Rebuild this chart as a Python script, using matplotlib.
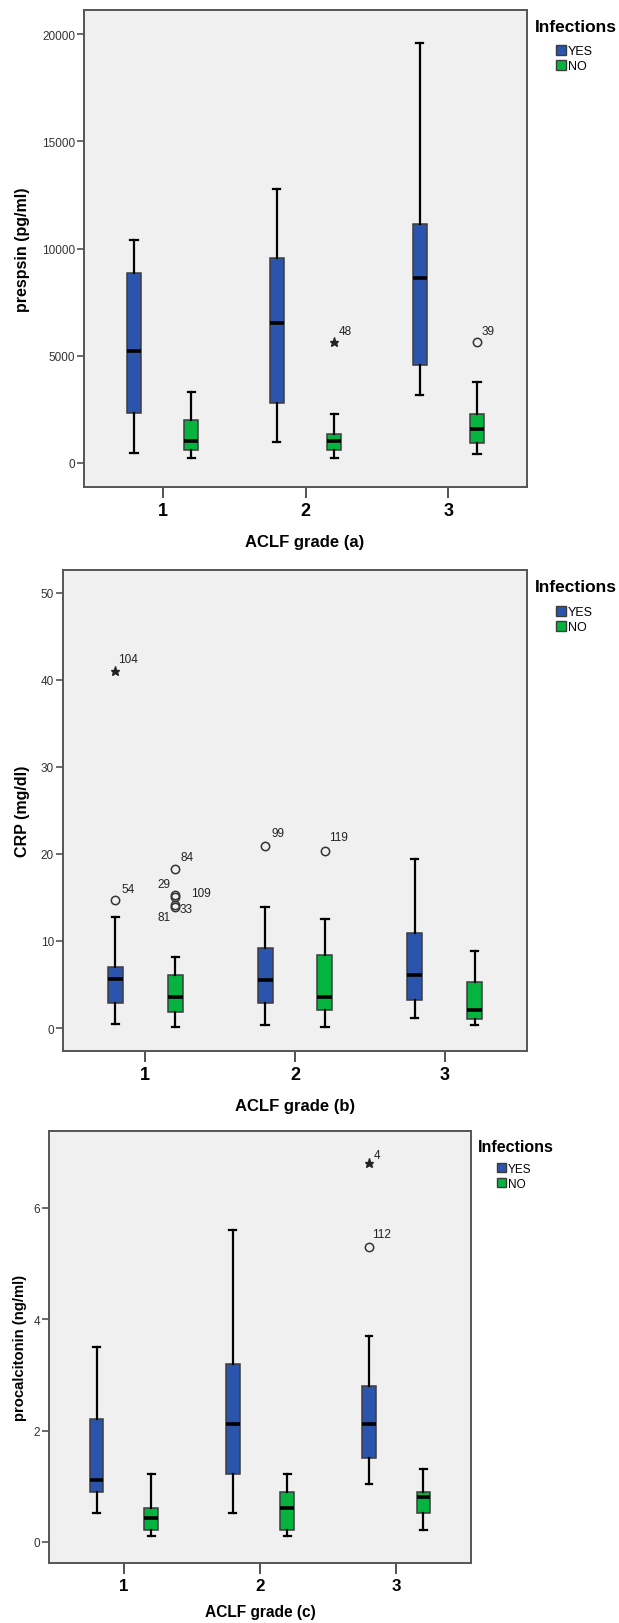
import matplotlib
matplotlib.use('Agg')
import matplotlib.pyplot as plt
from matplotlib.patches import Patch

plt.rcParams['font.family'] = ['Liberation Sans', 'DejaVu Sans']

# Figure size in pixels (dpi 100)
W, H = 619, 1624

grades = [1, 2, 3]
groups = ['YES', 'NO']
group_colors = {'YES': '#2B55AC', 'NO': '#05B43E'}

# Panel (a): prespsin (pg/ml) -- five-number summaries
presepsin_yes_lo = [466, 1000, 3160]
presepsin_yes_q1 = [2330, 2780, 4580]
presepsin_yes_med = [5240, 6540, 8620]
presepsin_yes_q3 = [8850, 9570, 11120]
presepsin_yes_hi = [10380, 12760, 19600]
presepsin_no_lo = [216, 216, 416]
presepsin_no_q1 = [616, 582, 915]
presepsin_no_med = [1032, 1032, 1580]
presepsin_no_q3 = [2000, 1330, 2300]
presepsin_no_hi = [3330, 2300, 3790]
# outliers: (grade, group, value, case label, kind)
presepsin_out = [(2, 'NO', 5620, '48', 'star'),
                 (3, 'NO', 5620, '39', 'circle')]

# Panel (b): CRP (mg/dl)
crp_yes_lo = [0.46, 0.38, 1.15]
crp_yes_q1 = [2.88, 2.88, 3.19]
crp_yes_med = [5.65, 5.49, 6.14]
crp_yes_q3 = [7.03, 9.22, 10.94]
crp_yes_hi = [12.79, 13.9, 19.39]
crp_no_lo = [0.08, 0.08, 0.31]
crp_no_q1 = [1.84, 2.04, 1.04]
crp_no_med = [3.53, 3.53, 2.04]
crp_no_q3 = [6.14, 8.37, 5.30]
crp_no_hi = [8.14, 12.48, 8.79]
crp_out = [(1, 'YES', 40.97, '104', 'star'),
           (1, 'YES', 14.67, '54', 'circle'),
           (1, 'NO', 18.28, '84', 'circle'),
           (1, 'NO', 15.3, '29', 'circle'),
           (1, 'NO', 15.0, '109', 'circle'),
           (1, 'NO', 14.1, '81', 'circle'),
           (1, 'NO', 13.9, '33', 'circle'),
           (2, 'YES', 20.93, '99', 'circle'),
           (2, 'NO', 20.35, '119', 'circle')]

# Panel (c): procalcitonin (ng/ml)
pct_yes_lo = [0.52, 0.52, 1.04]
pct_yes_q1 = [0.90, 1.21, 1.51]
pct_yes_med = [1.11, 2.11, 2.11]
pct_yes_q3 = [2.20, 3.20, 2.80]
pct_yes_hi = [3.50, 5.60, 3.70]
pct_no_lo = [0.11, 0.11, 0.22]
pct_no_q1 = [0.22, 0.22, 0.52]
pct_no_med = [0.42, 0.61, 0.81]
pct_no_q3 = [0.60, 0.90, 0.90]
pct_no_hi = [1.21, 1.21, 1.31]
pct_out = [(3, 'YES', 6.80, '4', 'star'),
           (3, 'YES', 5.30, '112', 'circle')]

# label offsets (points) for the case numbers next to outliers
label_offsets = {'48': (3, 8, 'left'), '39': (3.5, 8, 'left'),
                 '104': (2, 9, 'left'), '54': (4.5, 8, 'left'),
                 '84': (4, 8.5, 'left'), '29': (-3.5, 7.7, 'right'),
                 '109': (11.5, 3, 'left'), '81': (-3.5, -8.4, 'right'),
                 '33': (3.3, -1.7, 'left'), '99': (4.5, 9, 'left'),
                 '119': (3, 10, 'left'), '4': (3.6, 5.8, 'left'),
                 '112': (2, 9, 'left')}


def stats_list(lo, q1, med, q3, hi):
    return [dict(whislo=a, q1=b, med=c, q3=d, whishi=e, fliers=[])
            for a, b, c, d, e in zip(lo, q1, med, q3, hi)]


def rect(l, t, r, b):
    return [l / W, 1 - b / H, (r - l) / W, (b - t) / H]


def fx(x):
    return x / W


def fy(y):
    return 1 - y / H


fig = plt.figure(figsize=(W / 100, H / 100), dpi=100)

panels = [
    dict(box=(84, 11, 527, 488),
         yes=stats_list(presepsin_yes_lo, presepsin_yes_q1, presepsin_yes_med, presepsin_yes_q3, presepsin_yes_hi),
         no=stats_list(presepsin_no_lo, presepsin_no_q1, presepsin_no_med, presepsin_no_q3, presepsin_no_hi),
         out=presepsin_out, ylim=(-1120, 21120), yticks=[0, 5000, 10000, 15000, 20000],
         ylabel='prespsin (pg/ml)', xlabel='ACLF grade (a)',
         ylabel_pos=(22, 250), xlabel_pos=(305, 542), lab_fs=11.5,
         leg=(535, 28, 556, 46), title_fs=12.5, item_fs=9),
    dict(box=(63, 571, 527, 1052),
         yes=stats_list(crp_yes_lo, crp_yes_q1, crp_yes_med, crp_yes_q3, crp_yes_hi),
         no=stats_list(crp_no_lo, crp_no_q1, crp_no_med, crp_no_q3, crp_no_hi),
         out=crp_out, ylim=(-2.64, 52.6), yticks=[0, 10, 20, 30, 40, 50],
         ylabel='CRP (mg/dl)', xlabel='ACLF grade (b)',
         ylabel_pos=(22, 811), xlabel_pos=(295, 1107), lab_fs=11.5,
         leg=(535, 588, 556, 607), title_fs=12.5, item_fs=9),
    dict(box=(49, 1132, 471, 1564),
         yes=stats_list(pct_yes_lo, pct_yes_q1, pct_yes_med, pct_yes_q3, pct_yes_hi),
         no=stats_list(pct_no_lo, pct_no_q1, pct_no_med, pct_no_q3, pct_no_hi),
         out=pct_out, ylim=(-0.38, 7.38), yticks=[0, 2, 4, 6],
         ylabel='procalcitonin (ng/ml)', xlabel='ACLF grade (c)',
         ylabel_pos=(20, 1348), xlabel_pos=(260, 1613), lab_fs=10.7,
         leg=(478, 1148, 497, 1164), title_fs=11.5, item_fs=8.5),
]

offsets = {'YES': -0.2, 'NO': 0.2}

for p in panels:
    ax = fig.add_axes(rect(*p['box']))
    ax.set_facecolor('#F0F0F0')
    for name, st in (('YES', p['yes']), ('NO', p['no'])):
        pos = [g + offsets[name] for g in grades]
        ax.bxp(st, positions=pos, widths=0.1, patch_artist=True, showfliers=False,
               manage_ticks=False, capwidths=0.05,
               boxprops=dict(facecolor=group_colors[name], edgecolor='#3C3C3C', linewidth=1.1),
               medianprops=dict(color='black', linewidth=2.6, solid_capstyle='butt'),
               whiskerprops=dict(color='black', linewidth=1.6),
               capprops=dict(color='black', linewidth=1.6))
    for g, name, val, lab, kind in p['out']:
        x = g + offsets[name]
        if kind == 'star':
            ax.plot(x, val, marker='*', color='#222222', markersize=6.5, linestyle='none')
        else:
            ax.plot(x, val, marker='o', markerfacecolor='none', markeredgecolor='#333333',
                    markeredgewidth=1.1, markersize=6, linestyle='none')
        dx, dy, ha = label_offsets[lab]
        ax.annotate(lab, (x, val), xytext=(dx, dy), textcoords='offset points',
                    ha=ha, va='center', fontsize=8.5, color='#222222')

    ax.set_xlim(0.45, 3.55)
    ax.set_ylim(*p['ylim'])
    ax.set_xticks(grades)
    ax.set_xticklabels([str(g) for g in grades], fontsize=p['lab_fs'] + 1.5, fontweight='bold')
    ax.set_yticks(p['yticks'])
    ax.set_yticklabels([str(t) for t in p['yticks']], fontsize=8.5, color='#333333')
    ax.tick_params(axis='x', length=8, width=1.3, color='#444444', pad=3)
    ax.tick_params(axis='y', length=5, width=1.1, color='#444444', pad=1.5)
    for sp in ax.spines.values():
        sp.set_color('#555555')
        sp.set_linewidth(1.4)

    fig.text(fx(p['ylabel_pos'][0]), fy(p['ylabel_pos'][1]), p['ylabel'], rotation=90,
             ha='center', va='center', fontsize=p['lab_fs'], fontweight='bold')
    fig.text(fx(p['xlabel_pos'][0]), fy(p['xlabel_pos'][1]), p['xlabel'],
             ha='center', va='center', fontsize=p['lab_fs'] + 0.5, fontweight='bold')

    tx, ty, lx, ly = p['leg']
    fig.text(fx(tx), fy(ty), 'Infections', ha='left', va='center',
             fontsize=p['title_fs'], fontweight='bold')
    handles = [Patch(facecolor=group_colors[g], edgecolor='#3C3C3C', linewidth=1) for g in groups]
    leg = ax.legend(handles, groups, loc='upper left', bbox_to_anchor=(fx(lx), fy(ly)),
                    bbox_transform=fig.transFigure, frameon=False, borderpad=0,
                    borderaxespad=0, handlelength=0.8, handleheight=0.8,
                    handletextpad=0.15, labelspacing=0.25, fontsize=p['item_fs'])

fig.savefig('out.png', dpi=100, facecolor='white')
